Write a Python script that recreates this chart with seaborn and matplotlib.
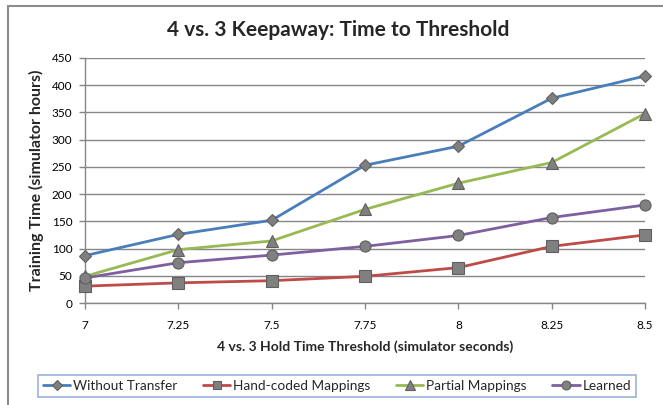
import matplotlib
matplotlib.use("Agg")
import matplotlib.pyplot as plt
from matplotlib.lines import Line2D
import seaborn as sns
import pandas as pd

# Hold-time thresholds (simulator seconds)
thresholds = [7, 7.25, 7.5, 7.75, 8, 8.25, 8.5]

# Training time to reach each threshold (simulator hours)
without_transfer = [87, 126, 152, 253, 288, 376, 417]
hand_coded = [31, 37, 41, 49, 65, 104, 125]
partial = [49, 98, 114, 172, 220, 258, 348]
learned = [46, 74, 88, 104, 124, 157, 180]

series_names = ["Without Transfer", "Hand-coded Mappings", "Partial Mappings", "Learned"]
series_values = [without_transfer, hand_coded, partial, learned]
colors = ["#4a7ebb", "#be4b48", "#98b954", "#7d60a0"]
markers = ["D", "s", "^", "o"]
msizes = [6, 8, 9, 8]

rows = []
for name, vals in zip(series_names, series_values):
    for t, v in zip(thresholds, vals):
        rows.append({"threshold": t, "hours": v, "method": name})
df = pd.DataFrame(rows)

sns.set_theme(style="white")
plt.rcParams["font.family"] = ["Lato", "DejaVu Sans"]

fig = plt.figure(figsize=(6.63, 4.05), dpi=100)
ax = fig.add_axes([85 / 663, 1 - 303 / 405, 560 / 663, 245 / 405])

for name, col, mk, ms in zip(series_names, colors, markers, msizes):
    sub = df[df["method"] == name]
    sns.lineplot(data=sub, x="threshold", y="hours", ax=ax, color=col,
                 linewidth=2.0, legend=False, zorder=3)
    ax.plot(sub["threshold"], sub["hours"], linestyle="none", marker=mk,
            markersize=ms, markerfacecolor="#808080", markeredgecolor="#5f5f5f",
            markeredgewidth=0.8, zorder=4, clip_on=False)

ax.set_xlim(7, 8.5)
ax.set_ylim(0, 450)
ax.set_xticks(thresholds)
ax.set_xticklabels(["7", "7.25", "7.5", "7.75", "8", "8.25", "8.5"])
ax.set_yticks(range(0, 451, 50))
ax.yaxis.grid(True, color="#868686", linewidth=1.0)
ax.xaxis.grid(False)
ax.set_axisbelow(True)
for side in ["top", "right"]:
    ax.spines[side].set_visible(False)
for side in ["left", "bottom"]:
    ax.spines[side].set_color("#868686")
    ax.spines[side].set_linewidth(1.0)
ax.tick_params(axis="both", which="both", length=4, width=1.0, color="#868686",
               labelsize=8.5, labelcolor="#000000", direction="out")
ax.tick_params(axis="x", pad=8)
ax.tick_params(axis="y", pad=5)
ax.xaxis.set_ticks_position("bottom")
ax.yaxis.set_ticks_position("left")

ax.set_xlabel("4 vs. 3 Hold Time Threshold (simulator seconds)", fontsize=10,
              fontweight="bold", labelpad=7)
ax.set_ylabel("Training Time (simulator hours)", fontsize=11.5,
              fontweight="bold", labelpad=6)

fig.text(338 / 663, 1 - 30 / 405, "4 vs. 3 Keepaway: Time to Threshold",
         ha="center", va="center", fontsize=15, fontweight="bold")

# outer chart frame (top and left edges)
fig.add_artist(Line2D([7.5 / 663, 1], [1 - 5.5 / 405, 1 - 5.5 / 405],
                      transform=fig.transFigure, color="#8c8c8c", linewidth=1.5))
fig.add_artist(Line2D([7.5 / 663, 7.5 / 663], [0, 1 - 5.5 / 405],
                      transform=fig.transFigure, color="#8c8c8c", linewidth=1.5))

handles = [Line2D([], [], color=c, linewidth=2.0, marker=m, markersize=s * 0.8,
                  markerfacecolor="#808080", markeredgecolor="#5f5f5f",
                  markeredgewidth=0.8)
           for c, m, s in zip(colors, markers, msizes)]
leg = fig.legend(handles, series_names, loc="center",
                 bbox_to_anchor=(337 / 663, 1 - 386 / 405), ncol=4,
                 fontsize=9.8, frameon=True, fancybox=False, handlelength=2.0,
                 handletextpad=0.2, columnspacing=1.9, borderpad=0.4,
                 borderaxespad=0)
leg.get_frame().set_edgecolor("#7f9fd0")
leg.get_frame().set_linewidth(1.2)

fig.savefig("out.png", dpi=100)
